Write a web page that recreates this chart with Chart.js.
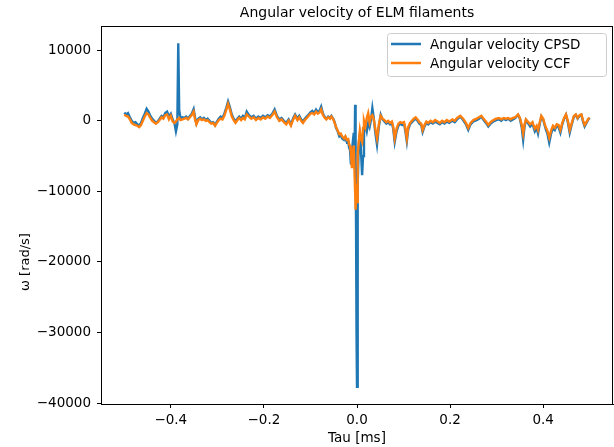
<!DOCTYPE html>
<html>
<head>
<meta charset="utf-8">
<script src="https://cdn.jsdelivr.net/npm/chart.js@4.4.0/dist/chart.umd.min.js"></script>
<style>
  html, body { margin: 0; padding: 0; background: #fff; }
  #wrap { width: 614px; height: 447px; }
</style>
</head>
<body>
<div id="wrap"><canvas id="grafico" width="614" height="447"></canvas></div>
<script>
// Tau [ms] (muestras)
const tau = [
  -0.500,-0.496,-0.492,-0.488,-0.484,-0.480,-0.476,-0.472,-0.468,-0.464,-0.460,-0.456,-0.452,-0.448,-0.444,-0.440,-0.436,-0.432,-0.428,-0.424,-0.420,-0.416,-0.412,-0.408,-0.404,-0.400,-0.396,-0.392,
  -0.389,-0.386,-0.384,-0.382,
  -0.379,-0.375,-0.371,-0.367,-0.363,-0.359,-0.355,-0.351,
  -0.348,-0.345,
  -0.341,-0.337,-0.333,-0.329,-0.325,-0.321,-0.317,-0.313,-0.309,-0.305,-0.301,-0.297,-0.293,-0.289,-0.285,-0.281,-0.277,-0.273,-0.269,-0.265,-0.261,-0.257,-0.253,-0.249,-0.245,
  -0.241,-0.237,-0.232,-0.227,-0.222,-0.217,-0.212,-0.207,-0.202,-0.197,-0.192,-0.187,-0.182,-0.177,-0.172,-0.167,-0.162,-0.157,-0.152,-0.147,-0.142,-0.137,
  -0.133,-0.128,-0.124,-0.120,-0.116,-0.112,-0.108,-0.104,-0.100,-0.096,-0.092,-0.088,-0.084,-0.080,
  -0.077,-0.073,-0.069,-0.066,-0.062,-0.058,-0.055,-0.051,-0.048,
  -0.045,-0.042,-0.038,-0.035,-0.032,-0.028,-0.025,-0.022,-0.019,-0.017,
  -0.015,-0.013,-0.011,-0.009,-0.007,-0.005,-0.004,-0.003,-0.002,-0.001,
  0.000,0.001,0.002,0.004,0.006,0.008,0.011,0.013,0.015,0.018,
  0.021,0.024,0.027,0.030,0.033,0.036,0.039,0.043,0.047,0.051,0.055,
  0.059,0.063,0.067,0.071,0.075,0.078,0.081,0.085,0.089,0.093,0.097,0.101,0.104,0.107,0.110,0.114,0.118,0.122,0.126,0.130,
  0.134,0.138,0.141,0.145,0.149,0.153,0.158,0.163,0.168,0.173,0.178,0.183,0.188,0.193,0.198,
  0.205,0.210,0.215,0.222,0.228,0.234,0.239,0.244,0.250,0.257,0.262,0.267,0.272,0.277,0.282,0.287,0.293,0.299,
  0.305,0.310,0.315,0.320,0.325,0.330,0.335,0.340,
  0.346,0.350,0.354,0.357,0.360,0.363,0.367,0.372,0.377,0.382,
  0.386,0.389,0.393,0.396,0.400,0.403,0.406,0.409,0.413,0.417,
  0.421,0.425,0.429,0.433,0.437,0.441,0.445,0.449,0.453,0.457,
  0.461,0.466,0.470,0.474,0.478,0.482,0.486,0.489,0.493,0.497,
  0.500
];

// Angular velocity CPSD [rad/s]
const omegaCPSD = [
  1150,900,1100,500,0,-300,-200,-500,-700,-300,400,1000,1700,1300,700,300,0,-300,-100,300,700,500,1100,1300,600,1000,200,-400,
  -1500,-500,11000,1500,
  300,500,400,600,300,700,1000,1650,
  500,-400,
  300,500,200,400,100,300,0,-300,-200,-600,-100,300,600,400,1000,1800,2750,1900,900,300,-100,300,600,300,700,
  400,1300,800,500,700,300,600,400,700,500,800,600,1000,1600,700,200,400,0,-300,200,-500,400,
  900,300,700,200,-100,300,600,900,1200,1400,1100,1600,1200,1500,
  2000,1000,500,300,600,400,700,300,-200,
  -1000,-1400,-2200,-2000,-2500,-2700,-2300,-3000,-2800,-3800,
  -4100,-6200,-4500,-3000,-1700,-3500,2270,-5000,-15000,-30000,
  -37700,-25000,-9000,-3000,-2000,-3500,-7700,-5000,-1500,-600,
  -1500,-300,-900,100,1800,400,-1500,-3400,-800,850,200,
  -100,-400,-200,-500,-300,-1200,-3000,-1500,-700,-400,-600,-400,-1500,-2900,-1200,-500,-200,100,300,0,
  -400,-600,-1600,-800,-300,-500,-200,-400,-100,-300,-500,-200,-400,-100,-300,
  0,-200,200,600,100,-500,-1300,-500,-100,100,300,600,100,-300,-800,-400,-100,100,
  200,0,300,100,300,0,200,400,
  850,300,-1000,-2700,-800,100,-300,-800,-400,-1500,
  -1000,-1800,-300,600,200,-600,-1300,-1800,-3100,-1800,
  -1000,-1300,-700,-900,-1700,-500,300,850,-200,-1700,
  -600,600,850,300,700,850,-200,-800,-300,200,
  400
];

// Angular velocity CCF [rad/s]
const omegaCCF = [
  850,700,600,200,-300,-500,-600,-700,-900,-600,0,600,1100,900,400,0,-200,-400,-200,100,500,300,800,900,200,700,-100,-300,
  -100,200,300,400,
  100,200,300,400,200,500,800,1300,
  200,-500,
  100,300,100,200,0,100,-200,-400,-300,-700,-300,100,300,200,700,1500,2400,1600,600,100,-300,100,400,100,400,
  200,900,600,300,500,100,400,200,500,300,600,400,800,1300,500,0,200,-200,-500,0,-700,200,
  700,100,500,0,-300,100,400,700,1000,1100,900,1300,1000,1200,
  1600,800,400,200,500,300,600,200,-300,
  -900,-1300,-1900,-1800,-2200,-2500,-2200,-2700,-2600,-3300,
  -3600,-4500,-6700,-5000,-3500,-8000,-10000,-12600,-11000,-9000,
  -11500,-8000,-4800,-3000,-1500,-2500,-3000,-1000,0,-800,
  400,1100,-200,600,800,200,-1000,-2500,-500,700,300,
  100,-200,0,-300,-100,-900,-2500,-1100,-400,-200,-300,-200,-1100,-2500,-900,-300,0,300,500,200,
  -200,-400,-1300,-600,-100,-300,0,-200,100,-100,-300,0,-200,100,-100,
  200,0,400,700,300,-300,-1000,-300,100,300,500,700,300,-100,-600,-200,100,300,
  400,200,400,300,400,200,400,500,
  900,400,-600,-1800,-500,200,-100,-500,-200,-1100,
  -700,-1300,-100,700,300,-400,-1000,-1400,-2400,-1400,
  -700,-1000,-500,-600,-1300,-300,400,900,0,-1300,
  -400,700,900,400,800,900,0,-600,-200,300,
  400
];

const ticksX = [-0.4, -0.2, 0.0, 0.2, 0.4];
const ticksY = [-40000, -30000, -20000, -10000, 0, 10000];

const AZUL = '#1f77b4';
const NARANJA = '#ff7f0e';
const FUENTE = "'DejaVu Sans', sans-serif";

const menos = (s) => s.replace('-', '\u2212');

// marco completo, titulo, leyenda y etiqueta del eje y
const extras = {
  id: 'extras',
  afterDraw(chart) {
    const { ctx, chartArea: a } = chart;
    ctx.save();
    ctx.strokeStyle = '#000';
    ctx.lineWidth = 1;
    ctx.strokeRect(Math.round(a.left) + 0.5, Math.round(a.top) + 0.5, Math.round(a.right - a.left) - 1, Math.round(a.bottom - a.top));

    // titulo centrado sobre el area del grafico
    ctx.fillStyle = '#000';
    ctx.font = `14px ${FUENTE}`;
    ctx.textAlign = 'center';
    ctx.textBaseline = 'middle';
    ctx.fillText('Angular velocity of ELM filaments', (a.left + a.right) / 2, 13);

    // leyenda
    const lx = 387.5, ly = 33.5, lw = 219, lh = 43;
    ctx.beginPath();
    ctx.roundRect(lx, ly, lw, lh, 3);
    ctx.fillStyle = 'rgba(255,255,255,0.8)';
    ctx.fill();
    ctx.strokeStyle = '#cccccc';
    ctx.lineWidth = 1;
    ctx.stroke();
    const items = [['Angular velocity CPSD', AZUL], ['Angular velocity CCF', NARANJA]];
    items.forEach(([txt, col], i) => {
      const y = 44 + i * 19;
      ctx.beginPath();
      ctx.strokeStyle = col;
      ctx.lineWidth = 2.5;
      ctx.moveTo(391, y);
      ctx.lineTo(421, y);
      ctx.stroke();
      ctx.fillStyle = '#000';
      ctx.font = `13.5px ${FUENTE}`;
      ctx.textBaseline = 'middle';
      ctx.textAlign = 'left';
      ctx.fillText(txt, 430, y + 1);
    });

    // etiqueta eje y
    ctx.translate(26, 262);
    ctx.rotate(-Math.PI / 2);
    ctx.font = `13px ${FUENTE}`;
    ctx.textAlign = 'center';
    ctx.textBaseline = 'middle';
    ctx.fillStyle = '#000';
    ctx.fillText('\u03c9 [rad/s]', 0, 0);
    ctx.restore();
  }
};

new Chart(document.getElementById('grafico'), {
  type: 'line',
  data: {
    datasets: [
      {
        label: 'Angular velocity CPSD',
        data: tau.map((t, i) => ({ x: t, y: omegaCPSD[i] })),
        borderColor: AZUL,
        borderWidth: 2.4,
        pointRadius: 0,
        tension: 0,
        order: 1
      },
      {
        label: 'Angular velocity CCF',
        data: tau.map((t, i) => ({ x: t, y: omegaCCF[i] })),
        borderColor: NARANJA,
        borderWidth: 2.4,
        pointRadius: 0,
        tension: 0,
        order: 0
      }
    ]
  },
  options: {
    responsive: false,
    animation: false,
    layout: { padding: { left: 0, right: 1, top: 26, bottom: 0 } },
    plugins: {
      legend: { display: false },
      tooltip: { enabled: false },
      title: { display: false }
    },
    scales: {
      x: {
        type: 'linear',
        min: -0.55,
        max: 0.55,
        afterBuildTicks: (s) => { s.ticks = ticksX.map(v => ({ value: v })); },
        afterFit: (s) => { s.height = 43; },
        grid: { display: true, drawOnChartArea: false, drawTicks: true, tickLength: 4, color: '#000' },
        border: { display: true, color: '#000' },
        ticks: {
          color: '#000',
          padding: 4,
          maxRotation: 0,
          font: { family: FUENTE, size: 13.5 },
          callback: (v) => menos(Number(v).toFixed(1))
        },
        title: {
          display: true,
          text: 'Tau [ms]',
          color: '#000',
          font: { family: FUENTE, size: 13.5 },
          padding: { top: 1, bottom: 0 }
        }
      },
      y: {
        min: -40135,
        max: 13435,
        afterBuildTicks: (s) => { s.ticks = ticksY.map(v => ({ value: v })); },
        afterFit: (s) => { s.width = 101; },
        grid: { display: true, drawOnChartArea: false, drawTicks: true, tickLength: 4, color: '#000' },
        border: { display: true, color: '#000' },
        ticks: {
          color: '#000',
          padding: 6,
          font: { family: FUENTE, size: 13.5 },
          callback: (v) => menos(String(v))
        }
      }
    }
  },
  plugins: [extras]
});
</script>
</body>
</html>
